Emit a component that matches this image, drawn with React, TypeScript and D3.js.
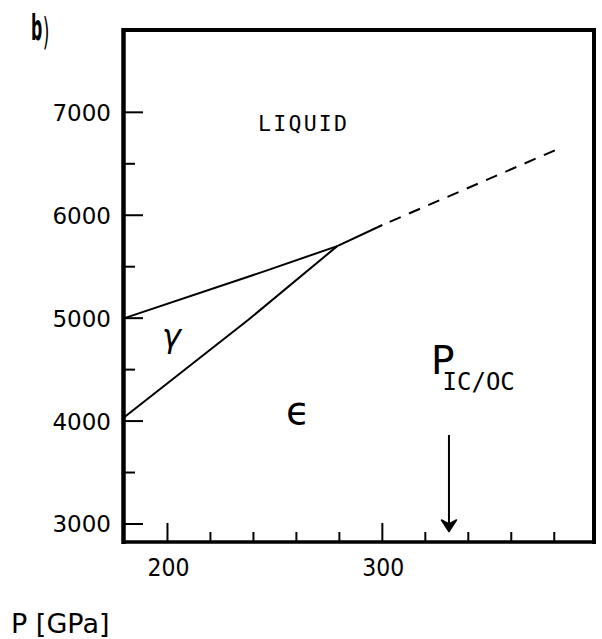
import React from "react";
import * as d3 from "d3";

// ---- data ----
const xDomain = [180, 398.5];
const yDomain = [2825, 7800];
const yMajorTicks = [3000, 4000, 5000, 6000, 7000];
const yMinorTicks = [3500, 4500, 5500, 6500];
const xMajorTicks = [200, 300];
const xMinorTicks = [220, 240, 260, 280, 320, 340, 360, 380];
const xTickLabels = ["200", "300"];

// gamma - liquid boundary
const gammaLiquidP = [180, 245, 279];
const gammaLiquidT = [5000, 5455, 5700];
// gamma - epsilon boundary
const gammaEpsP = [180, 237.5, 279];
const gammaEpsT = [4040, 4982, 5700];
// epsilon - liquid boundary (solid and extrapolated)
const epsLiquidP = [279, 300];
const epsLiquidT = [5700, 5905];
const epsLiquidDashP = [300, 383];
const epsLiquidDashT = [5905, 6655];
// inner core / outer core boundary pressure
const icbPressure = 331;

const W = 602;
const H = 639;

export default function App() {
  const x = d3.scaleLinear().domain(xDomain).range([124.5, 594]);
  const y = d3.scaleLinear().domain(yDomain).range([542, 30]);
  const line = d3
    .line<[number, number]>()
    .x((d) => x(d[0]))
    .y((d) => y(d[1]));
  const pts = (a: number[], b: number[]) => a.map((v, i) => [v, b[i]] as [number, number]);

  const ax = x(icbPressure);
  const mono = "'DejaVu Sans Mono', monospace";
  const sans = "'DejaVu Sans', sans-serif";

  return (
    <svg
      width={W}
      height={H}
      style={{ position: "absolute", left: 0, top: 0, background: "#fff" }}
    >
      <rect x={0} y={0} width={W} height={H} fill="#fff" />
      {/* frame */}
      <line x1={124.5} x2={594} y1={30} y2={30} stroke="#000" strokeWidth={4} />
      <line x1={594} x2={594} y1={28} y2={544} stroke="#000" strokeWidth={4} />
      <line x1={122} x2={596} y1={542} y2={542} stroke="#000" strokeWidth={3.5} />
      <line x1={123.5} x2={123.5} y1={28} y2={544} stroke="#000" strokeWidth={4.5} />

      {/* y ticks */}
      {yMajorTicks.map((t) => (
        <line key={"ym" + t} x1={125} x2={143} y1={y(t)} y2={y(t)} stroke="#000" strokeWidth={2} />
      ))}
      {yMinorTicks.map((t) => (
        <line key={"yn" + t} x1={125} x2={135} y1={y(t)} y2={y(t)} stroke="#000" strokeWidth={2} />
      ))}
      {yMajorTicks.map((t) => (
        <text
          key={"yl" + t}
          x={111}
          y={y(t) + 8.5}
          textAnchor="end"
          fontFamily={sans}
          fontSize={23}
          fill="#000"
        >
          {t}
        </text>
      ))}

      {/* x ticks */}
      {xMajorTicks.map((t) => (
        <line key={"xm" + t} x1={x(t)} x2={x(t)} y1={541} y2={523} stroke="#000" strokeWidth={2} />
      ))}
      {xMinorTicks.map((t) => (
        <line key={"xn" + t} x1={x(t)} x2={x(t)} y1={541} y2={532} stroke="#000" strokeWidth={2} />
      ))}
      {xMajorTicks.map((t, i) => (
        <text
          key={"xl" + t}
          x={x(t) + 1}
          y={576}
          textAnchor="middle"
          fontFamily={sans}
          fontSize={25}
          textLength={42}
          lengthAdjust="spacingAndGlyphs"
          fill="#000"
        >
          {xTickLabels[i]}
        </text>
      ))}

      {/* phase boundaries */}
      <path d={line(pts(gammaLiquidP, gammaLiquidT)) || ""} fill="none" stroke="#000" strokeWidth={2} />
      <path d={line(pts(gammaEpsP, gammaEpsT)) || ""} fill="none" stroke="#000" strokeWidth={2} />
      <path d={line(pts(epsLiquidP, epsLiquidT)) || ""} fill="none" stroke="#000" strokeWidth={2} />
      <path
        d={line(pts(epsLiquidDashP, epsLiquidDashT)) || ""}
        fill="none"
        stroke="#000"
        strokeWidth={2}
        strokeDasharray="12 9"
        strokeDashoffset={-8}
      />

      {/* arrow */}
      <line x1={ax} x2={ax} y1={435} y2={526} stroke="#000" strokeWidth={2} />
      <path
        d={`M${ax - 7.5},520 L${ax},531.7 L${ax + 7.5},520 L${ax},524 Z`}
        fill="#000"
        stroke="#000"
        strokeWidth={1.5}
        strokeLinejoin="round"
      />

      {/* labels */}
      <text x={258} y={131} fontFamily={mono} fontSize={21.5} textLength={89} lengthAdjust="spacing" fill="#000">
        LIQUID
      </text>
      <text x={162} y={346.5} fontFamily={sans} fontSize={32} fontStyle="italic" fill="#000">
        γ
      </text>
      <text x={286} y={424} fontFamily={sans} fontSize={39} fill="#000">
        ϵ
      </text>
      <text x={431} y={373.5} fill="#000">
        <tspan fontFamily={sans} fontSize={39}>
          P
        </tspan>
        <tspan fontFamily={mono} fontSize={24} dx={-12} dy={16}>
          IC/OC
        </tspan>
      </text>

      <text transform="translate(31,40) scale(0.45,1)" fill="#000">
        <tspan fontFamily={sans} fontWeight="bold" fontSize={35}>
          b
        </tspan>
        <tspan fontFamily={sans} fontSize={38} dx={1} dy={4}>
          )
        </tspan>
      </text>

      <text x={11} y={633} fontFamily={sans} fontSize={27} fill="#000">
        P [GPa]
      </text>
    </svg>
  );
}
